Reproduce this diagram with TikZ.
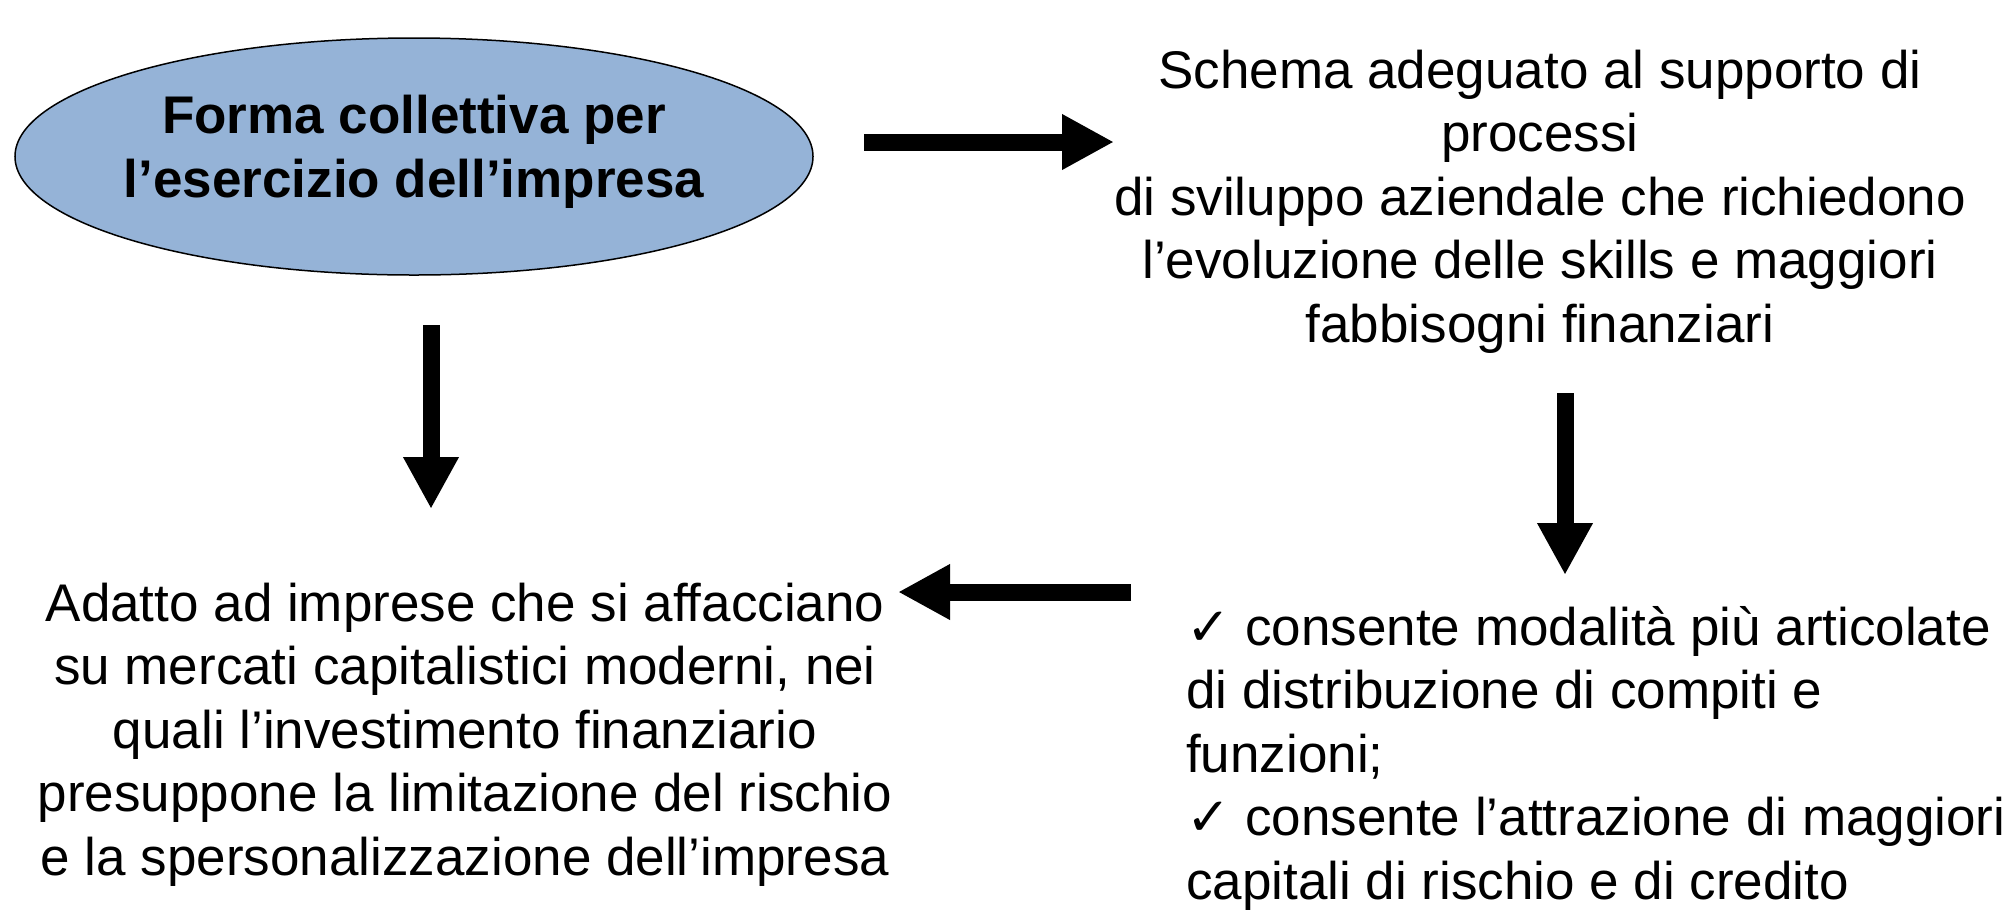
\documentclass[tikz,border=0pt]{standalone}
\usepackage{fontspec}
\setmainfont{Liberation Sans}
\newfontfamily\dejavu{DejaVu Sans}
\usetikzlibrary{arrows.meta}
\definecolor{ellfill}{RGB}{149,179,215}
\tikzset{
  bigarrow/.style={line width=17pt, -{Triangle[length=52pt 0 0,width=52pt 0 0]}},
  txt/.style={inner sep=0pt, font=\fontsize{53}{63.5}\selectfont},
}
\newcommand{\chk}{{\dejavu ✓}}
\begin{document}
\begin{tikzpicture}[x=1pt,y=-1pt]
\useasboundingbox (0,0) rectangle (2004,914);
% ellipse
\draw[fill=ellfill, line width=1.5pt] (414,156.5) ellipse [x radius=399, y radius=118.5];
\node[txt, anchor=base, align=center, font=\fontsize{53}{64}\selectfont\bfseries] (ell) at (414,197)
  {Forma collettiva per\\l’esercizio dell’impresa};
% top right text
\node[txt, anchor=base, align=center] (schema) at (1540,342)
  {Schema adeguato al supporto di\\processi\\di sviluppo aziendale che richiedono\\l’evoluzione delle skills e maggiori\\fabbisogni finanziari};
% bottom left text
\node[txt, anchor=base, align=center] (adatto) at (465,875)
  {Adatto ad imprese che si affacciano\\su mercati capitalistici moderni, nei\\quali l’investimento finanziario\\presuppone la limitazione del rischio\\e la spersonalizzazione dell’impresa};
% bottom right text
\node[txt, anchor=base west, align=left] (consente) at (1186,899)
  {\chk\ consente modalità più articolate\\di distribuzione di compiti e\\funzioni;\\\chk\ consente l’attrazione di maggiori\\capitali di rischio e di credito};
% arrows
\coordinate (a1s) at (864,142);
\coordinate (a1e) at (1114,142);
\coordinate (a2s) at (431,325);
\coordinate (a2e) at (431,509);
\coordinate (a3s) at (1565,393);
\coordinate (a3e) at (1565,575);
\coordinate (a4s) at (1131,592);
\coordinate (a4e) at (898,592);
\draw[bigarrow] (a1s) -- (a1e);
\draw[bigarrow] (a2s) -- (a2e);
\draw[bigarrow] (a3s) -- (a3e);
\draw[bigarrow] (a4s) -- (a4e);
\end{tikzpicture}
\end{document}
